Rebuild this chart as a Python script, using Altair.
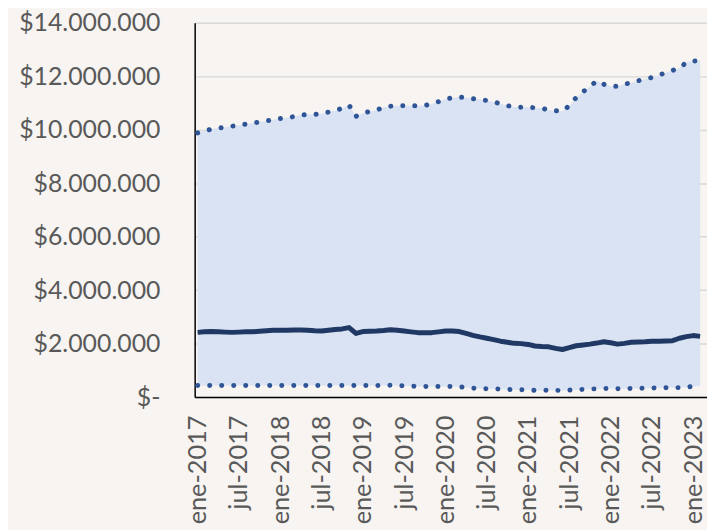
import altair as alt
import pandas as pd

# month index 0 = ene-2017 ... 73 = feb-2023
months = list(range(74))

upper = [9.88, 9.95, 10.02, 10.06, 10.09, 10.13, 10.17, 10.21, 10.25, 10.29,
         10.33, 10.37, 10.42, 10.45, 10.49, 10.55, 10.57, 10.57, 10.60, 10.66,
         10.72, 10.80, 10.92, 10.50, 10.62, 10.68, 10.73, 10.84, 10.88, 10.90,
         10.90, 10.90, 10.89, 10.91, 10.96, 11.05, 11.15, 11.19, 11.22, 11.20,
         11.16, 11.14, 11.09, 11.04, 10.97, 10.90, 10.85, 10.84, 10.84, 10.82,
         10.80, 10.74, 10.71, 10.69, 10.90, 11.20, 11.42, 11.62, 11.83, 11.70,
         11.63, 11.62, 11.70, 11.76, 11.83, 11.90, 11.95, 12.04, 12.13, 12.22,
         12.30, 12.52, 12.57, 12.58]

middle = [2.42, 2.44, 2.45, 2.44, 2.43, 2.42, 2.43, 2.44, 2.44, 2.46,
          2.48, 2.50, 2.50, 2.50, 2.51, 2.51, 2.50, 2.48, 2.47, 2.50,
          2.53, 2.55, 2.60, 2.38, 2.45, 2.46, 2.47, 2.49, 2.52, 2.50,
          2.47, 2.44, 2.41, 2.41, 2.41, 2.44, 2.47, 2.47, 2.45, 2.38,
          2.31, 2.25, 2.20, 2.15, 2.09, 2.05, 2.01, 2.00, 1.97, 1.91,
          1.89, 1.88, 1.82, 1.78, 1.85, 1.92, 1.95, 1.98, 2.02, 2.07,
          2.03, 1.98, 2.01, 2.05, 2.06, 2.07, 2.09, 2.09, 2.10, 2.11,
          2.20, 2.26, 2.30, 2.27]

lower = [0.435, 0.436, 0.436, 0.435, 0.435, 0.436, 0.436, 0.435, 0.435, 0.436,
         0.436, 0.435, 0.435, 0.436, 0.436, 0.435, 0.435, 0.436, 0.436, 0.435,
         0.435, 0.436, 0.436, 0.435, 0.434, 0.434, 0.434, 0.440, 0.445, 0.435,
         0.420, 0.412, 0.405, 0.400, 0.397, 0.397, 0.397, 0.397, 0.385, 0.365,
         0.335, 0.320, 0.313, 0.305, 0.298, 0.288, 0.275, 0.275, 0.270, 0.250,
         0.252, 0.260, 0.252, 0.248, 0.260, 0.275, 0.290, 0.303, 0.310, 0.318,
         0.322, 0.315, 0.315, 0.322, 0.328, 0.334, 0.340, 0.349, 0.349, 0.349,
         0.355, 0.370, 0.400, 0.410]

y_ticks = [0, 2e6, 4e6, 6e6, 8e6, 10e6, 12e6, 14e6]
x_ticks = [0, 6, 12, 18, 24, 30, 36, 42, 48, 54, 60, 66, 72]

df = pd.DataFrame({
    "m": months,
    "upper": [v * 1e6 for v in upper],
    "middle": [v * 1e6 for v in middle],
    "lower": [v * 1e6 for v in lower],
})

FONT = "Lato"
LABEL_COLOR = "#595959"

x_enc = alt.X(
    "m:Q",
    scale=alt.Scale(domain=[-0.43, 74.0], nice=False, zero=False),
    axis=alt.Axis(
        values=x_ticks,
        labelExpr="(datum.value % 12 == 0 ? 'ene' : 'jul') + '-' + (2017 + floor(datum.value / 12))",
        labelAngle=-90,
        labelPadding=18,
        ticks=False,
        grid=False,
        domainColor="#000000",
        domainWidth=1.5,
        labelFont=FONT,
        labelFontSize=25.5,
        labelColor=LABEL_COLOR,
        title=None,
        labelOverlap=False,
        labelBound=False,
        labelFlush=False,
    ),
)

y_scale = alt.Scale(domain=[0, 14e6], nice=False)
y_axis = alt.Axis(
    values=y_ticks,
    labelExpr="datum.value == 0 ? '$-' : '$' + (datum.value / 1000000) + '.000.000'",
    ticks=False,
    labelPadding=35,
    grid=True,
    gridColor="#D9D9D9",
    gridWidth=1.5,
    domainColor="#000000",
    domainWidth=1.5,
    labelFont=FONT,
    labelFontSize=25,
    labelColor=LABEL_COLOR,
    title=None,
    labelOverlap=False,
    labelFlush=False,
)

base = alt.Chart(df)

band = base.mark_area(color="#DAE3F3", opacity=1).encode(
    x=x_enc,
    y=alt.Y("lower:Q", scale=y_scale, axis=y_axis),
    y2="upper:Q",
)

dot_style = dict(color="#2F5597", strokeWidth=5, strokeDash=[0.1, 12], strokeCap="round")

up_line = base.mark_line(**dot_style).encode(x="m:Q", y="upper:Q")
low_line = base.mark_line(**dot_style).encode(x="m:Q", y="lower:Q")
mid_line = base.mark_line(color="#203864", strokeWidth=5, strokeJoin="round").encode(
    x="m:Q", y="middle:Q"
)

chart = (
    alt.layer(band, up_line, low_line, mid_line)
    .properties(
        width=516,
        height=377,
        background="#F7F4F1",
        padding={"left": 188, "top": 13, "right": 0, "bottom": 132},
        autosize=alt.AutoSizeParams(type="none"),
    )
    .configure_view(stroke=None)
)

chart.save("out.html", embed_options={"renderer": "svg", "actions": False})
